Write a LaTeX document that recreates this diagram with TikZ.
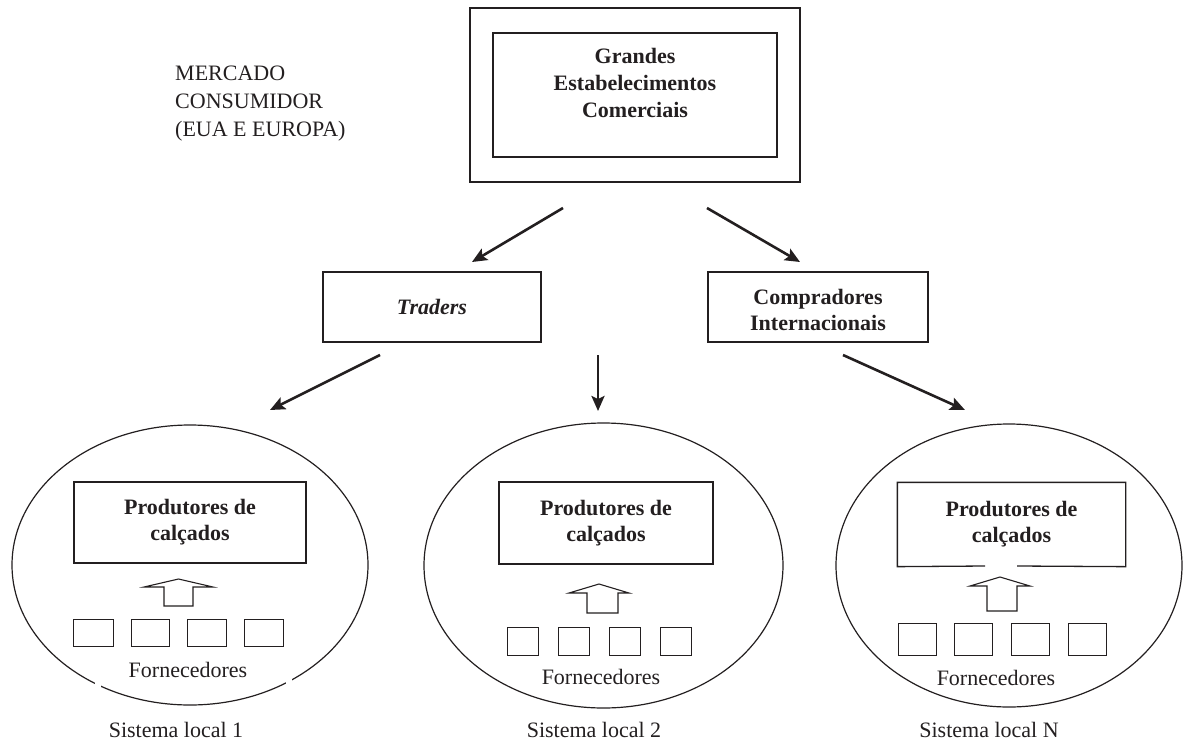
\documentclass[tikz,border=0pt]{standalone}
\usepackage{fontspec}
\setmainfont{Liberation Serif}
\usetikzlibrary{arrows.meta,shapes.geometric}
\definecolor{ink}{HTML}{231F20}
\begin{document}
\begin{tikzpicture}[x=1pt,y=-1pt,
  box/.style={draw=ink, line width=1.3pt, inner sep=0pt, align=center, text=ink},
  bold/.style={font=\fontsize{22}{26}\selectfont\bfseries},
  plain/.style={font=\fontsize{22}{28}\selectfont, text=ink, inner sep=0pt},
  flow/.style={draw=ink, line width=2.6pt, -{Stealth[length=15pt,width=13pt,inset=3pt]}},
  sys/.style={ellipse, draw=ink, line width=1.2pt, inner sep=0pt},
  sup/.style={draw=ink, line width=1.1pt, inner sep=0pt, minimum height=27pt},
  blk/.style={draw=ink, line width=1.1pt, fill=white},
]
\useasboundingbox (0,0) rectangle (1184,742);

% top
\node[box, minimum width=330pt, minimum height=174pt] (outer) at (635,95) {};
\node[box, minimum width=284pt, minimum height=124pt] (inner) at (635,95) {};
\node[text=ink, align=center, inner sep=0pt, font=\fontsize{22}{27}\selectfont\bfseries] (gec) at (635,83) {Grandes\\Estabelecimentos\\Comerciais};
\node[plain, anchor=north west, align=left] (merc) at (175,66) {MERCADO\\CONSUMIDOR\\(EUA E EUROPA)};

% middle
\node[box, bold, minimum width=218pt, minimum height=70pt] (traders) at (432,307) {\textit{Traders}};
\node[box, minimum width=220pt, minimum height=70pt] (comp) at (818,307) {};
\node[bold, text=ink, align=center, inner sep=0pt] (compt) at (818,310) {Compradores\\Internacionais};

\coordinate (a1s) at (563,208); \coordinate (a1e) at (472,262);
\coordinate (a2s) at (707,208); \coordinate (a2e) at (800,262);
\coordinate (b1s) at (380,355); \coordinate (b1e) at (270,410);
\coordinate (b2s) at (598,355); \coordinate (b2e) at (598,411);
\coordinate (b3s) at (843,355); \coordinate (b3e) at (965,410);
\draw[flow] (a1s) -- (a1e);
\draw[flow] (a2s) -- (a2e);
\draw[flow] (b1s) -- (b1e);
\draw[flow] (b2s) -- (b2e);
\draw[flow] (b3s) -- (b3e);

% systems
\node[sys, minimum width=356pt, minimum height=280pt] (sys1) at (190,565) {};
\node[sys, minimum width=359pt, minimum height=285pt] (sys2) at (603.5,565.5) {};
\node[sys, minimum width=346pt, minimum height=283pt] (sys3) at (1009,565.5) {};
% small breaks in the first ellipse
\fill[white] (95,680) rectangle (101,690);
\fill[white] (286,677) rectangle (292,687);

\node[box, bold, minimum width=232pt, minimum height=81pt] (p1) at (190,522.5) {Produtores de\\calçados};
\node[box, bold, minimum width=214pt, minimum height=82pt] (p2) at (606,523) {Produtores de\\calçados};
\node[box, bold, draw=none, minimum width=227pt, minimum height=83pt] (p3) at (1011.5,524.5) {Produtores de\\calçados};
\coordinate (g1) at (985,566); \coordinate (g2) at (1017,566);
\draw[draw=ink, line width=1.3pt] (g1) -- (p3.south west) -- (p3.north west) -- (p3.north east) -- (p3.south east) -- (g2);

% block arrows
\draw[blk] (164,606) -- (164,587) -- (144,587) -- (178.5,579) -- (213,587) -- (193,587) -- (193,606) -- cycle;
\draw[blk] (587,613) -- (587,593) -- (569,593) -- (599,584) -- (629,593) -- (618,593) -- (618,613) -- cycle;
\draw[blk] (987,611) -- (987,586) -- (970,586) -- (1000,577) -- (1030,586) -- (1017,586) -- (1017,611) -- cycle;

% suppliers
\foreach \x/\w [count=\i] in {73/40,131/38,187/39,244/39}
  \node[sup, minimum width=\w pt, anchor=north west] (s1\i) at (\x,619) {};
\foreach \x [count=\i] in {507,558,609,660}
  \node[sup, minimum width=31pt, minimum height=28pt, anchor=north west] (s2\i) at (\x,627) {};
\foreach \x [count=\i] in {898,954,1011,1068}
  \node[sup, minimum width=38pt, minimum height=32pt, anchor=north west] (s3\i) at (\x,623) {};

\node[plain, anchor=base] (f1) at (188,677) {Fornecedores};
\node[plain, anchor=base] (f2) at (601,684) {Fornecedores};
\node[plain, anchor=base] (f3) at (996,685) {Fornecedores};

\node[plain, anchor=base] (l1) at (176,737) {Sistema local 1};
\node[plain, anchor=base] (l2) at (594,737) {Sistema local 2};
\node[plain, anchor=base] (l3) at (989,737) {Sistema local N};
\end{tikzpicture}
\end{document}
